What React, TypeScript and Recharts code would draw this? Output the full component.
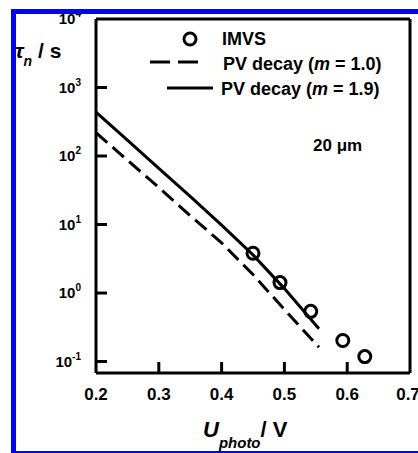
import {
  ComposedChart,
  Legend,
  Line,
  ReferenceLine,
  Scatter,
  XAxis,
  YAxis,
} from 'recharts'

// values (tau in s, voltage in V)
const pvVoltage = [0.2, 0.25, 0.3, 0.35, 0.4, 0.45, 0.5, 0.555]
const pvDecayM10 = [219, 87, 34.7, 13.5, 5.4, 1.86, 0.575, 0.162]
const pvDecayM19 = [437, 170, 66, 25.7, 9.8, 3.6, 1.16, 0.3]
const imvsVoltage = [0.45, 0.493, 0.542, 0.593, 0.628]
const imvsTau = [3.8, 1.42, 0.54, 0.203, 0.118]

const xTicks = [0.2, 0.3, 0.4, 0.5, 0.6, 0.7]
const yTicks = [0.1, 1, 10, 100, 1000, 10000]
const yTickExp = ['-1', '0', '1', '2', '3', '4']

const legendLabels = ['IMVS', 'PV decay (m = 1.0)', 'PV decay (m = 1.9)']

const FONT = 'Arial, "Liberation Sans", sans-serif'

const toPoints = (xs: number[], ys: number[]) => xs.map((x, i) => ({ x, y: ys[i] }))

function YTick({ x, y, payload }: any) {
  const i = yTicks.indexOf(payload.value)
  return (
    <g>
      {i < yTicks.length - 1 && (
        <line x1={x + 15} x2={x + 26} y1={y} y2={y} stroke="#000" strokeWidth={3} />
      )}
      <text x={x} y={y + 5} textAnchor="end" fontFamily={FONT} fontWeight="bold" fontSize={15} fill="#000">
        10<tspan dy={-7} fontSize={10}>{yTickExp[i]}</tspan>
      </text>
    </g>
  )
}

function XTick({ x, y, payload }: any) {
  const v = payload.value
  const inner = v > 0.2 && v < 0.7
  return (
    <g>
      {inner && <line x1={x} x2={x} y1={y - 10} y2={y - 21} stroke="#000" strokeWidth={3} />}
      <text x={x} y={y + 17} textAnchor="middle" fontFamily={FONT} fontWeight="bold" fontSize={17} fill="#000">
        {v.toFixed(1)}
      </text>
    </g>
  )
}

function mLabel(label: string) {
  const [pre, post] = label.split('m =')
  return (
    <>
      {pre}
      <tspan fontStyle="italic">m</tspan> ={post}
    </>
  )
}

function LegendBox() {
  // drawn relative to wrapper at (140, 22)
  return (
    <svg width={270} height={85} style={{ display: 'block' }}>
      <circle cx={50} cy={17} r={6} fill="none" stroke="#000" strokeWidth={3} />
      <line x1={10} x2={60} y1={40} y2={40} stroke="#000" strokeWidth={3} strokeDasharray="20 8" />
      <line x1={27} x2={73} y1={66} y2={66} stroke="#000" strokeWidth={3} />
      <g fontFamily={FONT} fontWeight="bold" fontSize={18} fill="#000">
        <text x={82} y={23}>{legendLabels[0]}</text>
        <text x={83} y={48}>{mLabel(legendLabels[1])}</text>
        <text x={81} y={73}>{mLabel(legendLabels[2])}</text>
      </g>
    </svg>
  )
}

export default function App() {
  return (
    <div style={{ position: 'absolute', left: 0, top: 0, width: 418, height: 453, background: '#fff' }}>
      <ComposedChart width={418} height={453} margin={{ top: 19, right: 8, bottom: 50, left: 16 }}>
        <XAxis
          type="number"
          dataKey="x"
          domain={[0.2, 0.7]}
          ticks={xTicks}
          height={30}
          tickSize={0}
          tickMargin={10}
          tickLine={false}
          tick={<XTick />}
          axisLine={{ stroke: '#000', strokeWidth: 3 }}
          allowDataOverflow
        />
        <YAxis
          type="number"
          dataKey="y"
          scale="log"
          domain={[0.068, 10000]}
          ticks={yTicks}
          width={80}
          tickSize={0}
          tickMargin={15}
          tickLine={false}
          tick={<YTick />}
          axisLine={{ stroke: '#000', strokeWidth: 3 }}
          allowDataOverflow
        />
        <ReferenceLine y={10000} stroke="#000" strokeWidth={3} />
        <ReferenceLine x={0.7} stroke="#000" strokeWidth={3} />
        <Line
          data={toPoints(pvVoltage, pvDecayM10)}
          dataKey="y"
          name={legendLabels[1]}
          type="linear"
          stroke="#000"
          strokeWidth={3}
          strokeDasharray="15 7"
          dot={false}
          isAnimationActive={false}
        />
        <Line
          data={toPoints(pvVoltage, pvDecayM19)}
          dataKey="y"
          name={legendLabels[2]}
          type="linear"
          stroke="#000"
          strokeWidth={3}
          dot={false}
          isAnimationActive={false}
        />
        <Scatter
          data={toPoints(imvsVoltage, imvsTau)}
          dataKey="y"
          name={legendLabels[0]}
          isAnimationActive={false}
          shape={(p: any) => <circle cx={p.cx} cy={p.cy} r={6} fill="none" stroke="#000" strokeWidth={3} />}
        />
        <Legend
          layout="vertical"
          align="center"
          verticalAlign="middle"
          content={() => <LegendBox />}
          wrapperStyle={{ position: 'absolute', left: 140, top: 22, width: 270, height: 85 }}
        />
      </ComposedChart>
      <svg
        width={418}
        height={453}
        style={{ position: 'absolute', left: 0, top: 0, pointerEvents: 'none' }}
      >
        <g fontFamily={FONT} fontWeight="bold" fill="#000">
          <text x={313} y={151} fontSize={17}>20 μm</text>
          <text x={15} y={58} fontSize={21}>
            <tspan fontStyle="italic">τ</tspan>
            <tspan fontStyle="italic" fontSize={14} dy={8}>n</tspan>
            <tspan dy={-8}> / s</tspan>
          </text>
          <text x={203} y={437} fontSize={22}>
            <tspan fontStyle="italic">U</tspan>
            <tspan fontStyle="italic" fontSize={15} dy={11}>photo</tspan>
            <tspan dy={-11}>/ V</tspan>
          </text>
        </g>
        <rect x={11} y={9} width={5} height={444} fill="#0000ff" />
        <rect x={11} y={9} width={407} height={5} fill="#0000ff" />
        <rect x={11} y={451} width={407} height={2} fill="#0000ff" />
      </svg>
    </div>
  )
}
